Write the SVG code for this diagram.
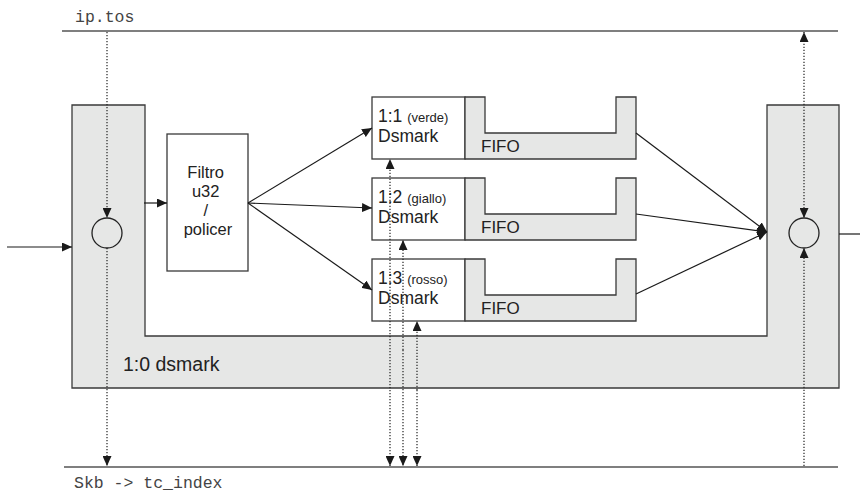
<svg xmlns="http://www.w3.org/2000/svg" width="860" height="493" viewBox="0 0 860 493">
<defs>
<style>
.box{fill:#fff;stroke:#3a3a3a;stroke-width:1.3}
.gray{fill:#e6e7e6;stroke:#3a3a3a;stroke-width:1.3}
.rail{fill:none;stroke:#555;stroke-width:1.5}
.edge{fill:none;stroke:#1a1a1a;stroke-width:1.2}
.dot{fill:none;stroke:#222;stroke-width:1.2;stroke-dasharray:1.3 1.7}
.sans{font-family:"Liberation Sans",Arial,sans-serif;fill:#222}
.mono{font-family:"Liberation Mono","Courier New",monospace;fill:#444;font-size:16.5px}
</style>
<marker id="ah" viewBox="0 0 10 9" refX="10" refY="4.5" markerWidth="10" markerHeight="9" markerUnits="userSpaceOnUse" orient="auto">
<path d="M0,0 L10,4.5 L0,9 Z" fill="#1a1a1a"/>
</marker>
</defs>
<rect width="860" height="493" fill="#fff"/>

<g id="rails">
<line class="rail" x1="62" y1="31" x2="838" y2="31"/>
<text class="mono" x="75" y="22">ip.tos</text>
<line class="rail" x1="64" y1="467" x2="838" y2="467"/>
<text class="mono" x="74" y="488">Skb -&gt; tc_index</text>
</g>

<g id="dsmark-root">
<path class="gray" d="M72,105 H145 V336 H767 V105 H839 V388 H72 Z"/>
<text class="sans" x="123" y="371" font-size="19.5">1:0 dsmark</text>
</g>

<g id="circle-in">
<circle cx="107" cy="233" r="15" fill="none" stroke="#222" stroke-width="1.3"/>
</g>
<g id="circle-out">
<circle cx="804" cy="233" r="15" fill="none" stroke="#222" stroke-width="1.3"/>
</g>

<g id="filtro">
<rect class="box" x="167" y="134" width="81" height="137"/>
<text class="sans" font-size="16.5" text-anchor="middle">
<tspan x="208" y="178">Filtro</tspan>
<tspan x="208" y="197">u32</tspan>
<tspan x="208" y="216">/</tspan>
<tspan x="208" y="235">policer</tspan>
</text>
</g>

<g id="class-1-1">
<rect class="box" x="372" y="97" width="93" height="62"/>
<path class="gray" d="M465,97 H485 V133 H616 V97 H636 V159 H465 Z"/>
<text class="sans" x="378" y="122" font-size="17.5">1:1 <tspan font-size="13">(verde)</tspan></text>
<text class="sans" x="378" y="142" font-size="17.5">Dsmark</text>
<text class="sans" x="481" y="152" font-size="17">FIFO</text>
</g>

<g id="class-1-2">
<rect class="box" x="372" y="178" width="93" height="62"/>
<path class="gray" d="M465,178 H485 V214 H616 V178 H636 V240 H465 Z"/>
<text class="sans" x="378" y="203" font-size="17.5">1:2 <tspan font-size="13">(giallo)</tspan></text>
<text class="sans" x="378" y="223" font-size="17.5">Dsmark</text>
<text class="sans" x="481" y="233" font-size="17">FIFO</text>
</g>

<g id="class-1-3">
<rect class="box" x="372" y="259" width="93" height="62"/>
<path class="gray" d="M465,259 H485 V295 H616 V259 H636 V321 H465 Z"/>
<text class="sans" x="378" y="284" font-size="17.5">1:3 <tspan font-size="13">(rosso)</tspan></text>
<text class="sans" x="378" y="304" font-size="17.5">Dsmark</text>
<text class="sans" x="481" y="314" font-size="17">FIFO</text>
</g>

<g id="connectors">
<line class="edge" x1="7" y1="247" x2="72" y2="247" marker-end="url(#ah)"/>
<line class="edge" x1="839" y1="234" x2="860" y2="234"/>
<line class="edge" x1="144" y1="203" x2="167" y2="203" marker-end="url(#ah)"/>
<line class="edge" x1="248" y1="203" x2="372" y2="128" marker-end="url(#ah)"/>
<line class="edge" x1="248" y1="203" x2="372" y2="208" marker-end="url(#ah)"/>
<line class="edge" x1="248" y1="203" x2="372" y2="290" marker-end="url(#ah)"/>
<line class="edge" x1="636" y1="133" x2="767" y2="232" marker-end="url(#ah)"/>
<line class="edge" x1="636" y1="214" x2="767" y2="232" marker-end="url(#ah)"/>
<line class="edge" x1="636" y1="294" x2="767" y2="232" marker-end="url(#ah)"/>

<line class="dot" x1="107" y1="32" x2="107" y2="218" marker-end="url(#ah)"/>
<line class="dot" x1="107" y1="248" x2="107" y2="466" marker-end="url(#ah)"/>

<line class="dot" x1="804" y1="120" x2="804" y2="32" marker-end="url(#ah)"/>
<line class="dot" x1="804" y1="120" x2="804" y2="218" marker-end="url(#ah)"/>
<line class="dot" x1="804" y1="466" x2="804" y2="248" marker-end="url(#ah)"/>

<line class="dot" x1="390" y1="300" x2="390" y2="159" marker-end="url(#ah)"/>
<line class="dot" x1="390" y1="300" x2="390" y2="466" marker-end="url(#ah)"/>
<line class="dot" x1="403" y1="350" x2="403" y2="240" marker-end="url(#ah)"/>
<line class="dot" x1="403" y1="350" x2="403" y2="466" marker-end="url(#ah)"/>
<line class="dot" x1="417" y1="390" x2="417" y2="321" marker-end="url(#ah)"/>
<line class="dot" x1="417" y1="390" x2="417" y2="466" marker-end="url(#ah)"/>
</g>
</svg>
